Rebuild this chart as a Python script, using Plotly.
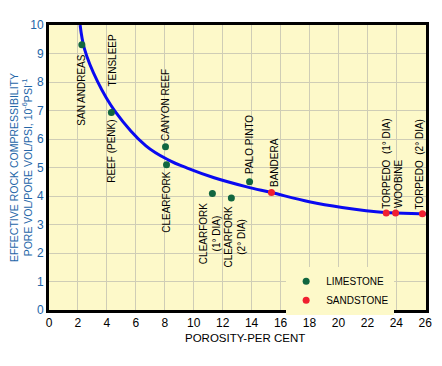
import plotly.graph_objects as go

# ---- data ----
lime_names = ["SAN ANDREAS", "REEF (PENK)", "CANYON REEF", "CLEARFORK",
              "CLEARFORK (1° DIA)", "CLEARFORK (2° DIA)", "PALO PINTO"]
lime_porosity = [2.27, 4.31, 8.05, 8.12, 11.29, 12.6, 13.86]
lime_comp = [9.31, 6.93, 5.73, 5.10, 4.09, 3.93, 4.50]

sand_names = ["BANDERA", "TORPEDO (1° DIA)", "WOOBINE", "TORPEDO (2° DIA)"]
sand_porosity = [15.37, 23.3, 23.95, 25.8]
sand_comp = [4.12, 3.40, 3.40, 3.38]

curve_porosity = [2.15, 2.45, 3.35, 4.54, 6.7, 8.23, 9.6, 11.41, 13.67, 15.37,
                  17.98, 20.25, 23.2, 25.7, 26.1]
curve_comp = [10.0, 9.16, 8.02, 6.99, 5.76, 5.27, 4.97, 4.64, 4.32, 4.12,
              3.80, 3.60, 3.42, 3.38, 3.37]

label_text = ["SAN ANDREAS", "TENSLEEP", "REEF (PENK)", "CANYON REEF", "CLEARFORK",
              "CLEARFORK<br>(1° DIA)", "CLEARFORK<br>(2° DIA)", "PALO PINTO",
              "BANDERA", "TORPEDO  (1° DIA)", "WOOBINE", "TORPEDO  (2° DIA)"]
label_x = [2.22, 4.37, 4.32, 8.06, 8.12, 11.18, 12.86, 13.86, 15.54, 23.33, 24.14, 25.6]
label_y = [7.70, 8.76, 5.57, 7.18, 3.78, 2.69, 2.55, 5.81, 5.19, 5.15, 4.43, 5.12]

x_ticks = list(range(0, 27, 2))
y_ticks = list(range(0, 11, 1))

FONT = "Arial, Liberation Sans, Helvetica, sans-serif"
BG = "#fdf9c9"
BLUE_TXT = "#2466a8"

fig = go.Figure()
fig.add_trace(go.Scatter(x=curve_porosity, y=curve_comp, mode="lines",
                         line=dict(color="#0a0af0", width=3, shape="spline", smoothing=1.0),
                         showlegend=False, hoverinfo="skip"))
fig.add_trace(go.Scatter(x=lime_porosity, y=lime_comp, mode="markers", name="LIMESTONE",
                         text=lime_names,
                         marker=dict(color="#11663f", size=7)))
fig.add_trace(go.Scatter(x=sand_porosity, y=sand_comp, mode="markers", name="SANDSTONE",
                         text=sand_names,
                         marker=dict(color="#f02030", size=7)))

for t, lx, ly in zip(label_text, label_x, label_y):
    fig.add_annotation(x=lx, y=ly, text=t, showarrow=False, textangle=-90,
                       xanchor="center", yanchor="middle",
                       font=dict(family=FONT, size=10, color="black"))

# axis titles
fig.add_annotation(xref="paper", yref="paper", x=0, y=0.5, xshift=-28.5,
                   text="EFFECTIVE ROCK COMPRESSIBILITY<br>PORE VOL/PORE VOL/PSI, 10<sup>-6</sup>PSI<sup>-1</sup>",
                   showarrow=False, textangle=-90, xanchor="center", yanchor="middle",
                   font=dict(family=FONT, size=10.5, color=BLUE_TXT))
fig.add_annotation(xref="paper", yref="paper", x=0.5, y=0, yshift=-28, xshift=7,
                   text="POROSITY-PER CENT", showarrow=False,
                   xanchor="center", yanchor="middle",
                   font=dict(family=FONT, size=11.5, color="black"))

# page has an 8px body margin, so the figure is offset by (8, 8)
fig.update_layout(
    width=434, height=358,
    margin=dict(l=41, r=10, t=12, b=56),
    paper_bgcolor="white", plot_bgcolor=BG,
    font=dict(family=FONT, size=12, color="black"),
    xaxis=dict(range=[0, 26.05], tickvals=x_ticks, ticktext=[str(v) for v in x_ticks],
               showgrid=True, gridcolor="#cfcdb6", gridwidth=1, zeroline=False,
               showline=True, linecolor="black", linewidth=3, mirror=True,
               ticks="", tickfont=dict(family=FONT, size=12, color="black")),
    yaxis=dict(range=[0, 10], tickvals=y_ticks, ticktext=[str(v) for v in y_ticks],
               showgrid=True, gridcolor="#cfcdb6", gridwidth=1, zeroline=False,
               showline=True, linecolor="black", linewidth=3, mirror=True,
               ticks="", tickfont=dict(family=FONT, size=12, color=BLUE_TXT)),
    legend=dict(x=0.629, y=0.152, xanchor="left", yanchor="top",
                bgcolor=BG, borderwidth=0,
                font=dict(family=FONT, size=10, color="black"),
                itemwidth=30, tracegroupgap=0),
    showlegend=True,
)

fig.write_html("out.html")
